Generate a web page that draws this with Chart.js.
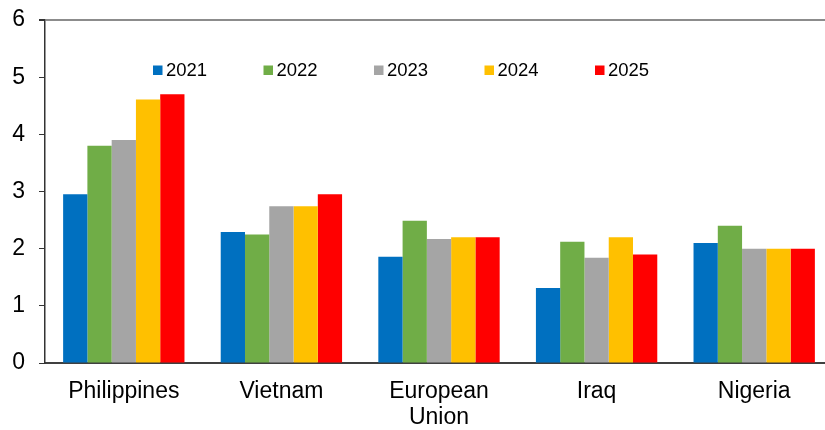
<!DOCTYPE html>
<html>
<head>
<meta charset="utf-8">
<script src="https://cdn.jsdelivr.net/npm/chart.js@4.4.1/dist/chart.umd.min.js"></script>
<style>
  html, body { margin: 0; padding: 0; background: #fff; overflow: hidden; }
  .chart { position: relative; width: 833px; height: 430px; }
</style>
</head>
<body>
<div class="chart">
  <canvas id="debtChart"></canvas>
</div>
<script>
const categories = ['Philippines', 'Vietnam', ['European', 'Union'], 'Iraq', 'Nigeria'];
const years = ['2021', '2022', '2023', '2024', '2025'];
const colors = ['#0070C0', '#70AD47', '#A5A5A5', '#FFC000', '#FF0000'];

const values2021 = [2.95, 2.29, 1.86, 1.31, 2.10];
const values2022 = [3.80, 2.25, 2.49, 2.12, 2.40];
const values2023 = [3.90, 2.74, 2.17, 1.84, 2.00];
const values2024 = [4.61, 2.74, 2.20, 2.20, 2.00];
const values2025 = [4.70, 2.95, 2.20, 1.90, 2.00];
const series = [values2021, values2022, values2023, values2024, values2025];

const yTicks = [0, 1, 2, 3, 4, 5, 6];

// legend sits inside the plot area, so draw it ourselves
const insideLegend = {
  id: 'insideLegend',
  afterDraw(chart) {
    const ctx = chart.ctx;
    const area = chart.chartArea;
    ctx.save();
    ctx.font = '18.5px "Liberation Sans", Arial, sans-serif';
    ctx.textBaseline = 'middle';
    chart.data.datasets.forEach((ds, i) => {
      const x = area.left + 108 + i * 110.5;
      const y = 70;
      ctx.fillStyle = ds.backgroundColor;
      ctx.fillRect(x, y - 4.5, 9.5, 9.5);
      ctx.fillStyle = '#000';
      ctx.fillText(ds.label, x + 13, y + 1);
    });
    ctx.restore();
  }
};

new Chart(document.getElementById('debtChart'), {
  type: 'bar',
  data: {
    labels: categories,
    datasets: years.map((y, i) => ({
      label: y,
      data: series[i],
      backgroundColor: colors[i],
      borderWidth: 0,
      barPercentage: 1,
      categoryPercentage: 0.77
    }))
  },
  options: {
    responsive: true,
    maintainAspectRatio: false,
    animation: false,
    layout: { padding: { top: 20, right: 0, left: 0, bottom: 0 } },
    plugins: {
      legend: { display: false },
      tooltip: { enabled: false }
    },
    scales: {
      x: {
        grid: { display: false, drawTicks: false },
        border: { display: true, color: '#404040', width: 2 },
        ticks: {
          color: '#000',
          padding: 15,
          maxRotation: 0,
          font: { family: '"Liberation Sans", Arial, sans-serif', size: 23, lineHeight: 1.15 }
        },
        afterFit(scale) { scale.height = 67; scale.paddingLeft = 0; scale.paddingRight = 0; }
      },
      y: {
        min: 0,
        max: 6,
        ticks: {
          stepSize: 0.5,
          color: '#000',
          padding: 14,
          font: { family: '"Liberation Sans", Arial, sans-serif', size: 23 },
          callback: v => (yTicks.includes(v) ? v : '')
        },
        grid: {
          drawOnChartArea: true,
          tickLength: 6,
          color: c => (c.tick && c.tick.value === 6 ? '#8c8c8c' : 'rgba(0,0,0,0)'),
          tickColor: '#333',
          lineWidth: c => (c.tick && c.tick.value === 6 ? 2 : 1)
        },
        border: { display: true, color: '#333', width: 1.5 },
        afterFit(scale) { scale.width = 45; scale.paddingTop = 0; scale.paddingBottom = 0; }
      }
    }
  },
  plugins: [insideLegend]
});
</script>
</body>
</html>
